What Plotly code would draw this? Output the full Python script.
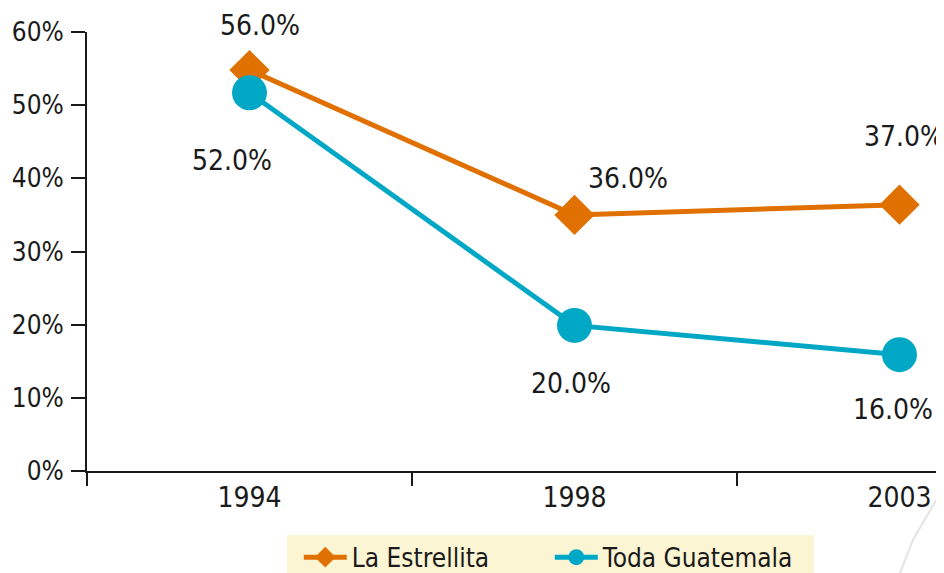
import plotly.graph_objects as go

years = ["1994", "1998", "2003"]
estrellita = [54.8, 35.0, 36.4]
guatemala = [51.7, 19.9, 15.9]
estrellita_labels = ["56.0%", "36.0%", "37.0%"]
guatemala_labels = ["52.0%", "20.0%", "16.0%"]
y_ticks = [0, 10, 20, 30, 40, 50, 60]
y_tick_labels = ["0%", "10%", "20%", "30%", "40%", "50%", "60%"]

ORANGE = "#E07000"
TEAL = "#00A8C6"
INK = "#1a1a1a"
CREAM = "#FCF5D3"
FONT = "DejaVu Sans Condensed"
FS = 28

fig = go.Figure()
fig.add_trace(go.Scatter(
    x=years, y=estrellita, name="La Estrellita", mode="lines+markers",
    line=dict(color=ORANGE, width=5),
    marker=dict(symbol="diamond", size=31, color=ORANGE),
))
fig.add_trace(go.Scatter(
    x=years, y=guatemala, name="Toda Guatemala", mode="lines+markers",
    line=dict(color=TEAL, width=5),
    marker=dict(symbol="circle", size=35, color=TEAL),
))

# label offsets (pixels) relative to each point
est_off = [(10, 45), (54, 36), (5, 68)]
gua_off = [(-18, -68), (-3, -58), (-6, -55)]
anns = []
for ys, labs, offs in ((estrellita, estrellita_labels, est_off),
                       (guatemala, guatemala_labels, gua_off)):
    for i, (y, t, (dx, dy)) in enumerate(zip(ys, labs, offs)):
        anns.append(dict(xref="x", yref="y", x=i, y=y, text=t, showarrow=False,
                         xanchor="center", yanchor="middle",
                         xshift=dx, yshift=dy,
                         font=dict(family=FONT, size=FS, color=INK)))

fig.update_layout(
    width=944, height=573,
    margin=dict(l=79, r=8, t=24, b=110, autoexpand=False),
    paper_bgcolor="white", plot_bgcolor="white",
    font=dict(family=FONT, size=FS, color=INK),
    showlegend=True,
    legend=dict(orientation="h", x=0.54, xanchor="center", y=-0.143, yanchor="top",
                bgcolor="rgba(0,0,0,0)", font=dict(family=FONT, size=26, color=INK),
                itemwidth=43, entrywidth=193, entrywidthmode="pixels"),
    annotations=anns,
    shapes=[
        dict(type="rect", xref="paper", yref="paper",
             x0=0.2334, x1=0.8483, y0=-0.26, y1=-0.1458,
             fillcolor=CREAM, line=dict(width=0), layer="below"),
        dict(type="path", xref="paper", yref="paper",
             path="M 1.0152,-0.025 L 0.9988,-0.0433 L 0.9860,-0.0820 "
                  "L 0.9638,-0.1572 L 0.9487,-0.2323 L 0.946,-0.26",
             line=dict(color="#e4e4e4", width=2), layer="below"),
    ],
)
fig.update_xaxes(
    type="category", range=[-0.5, 2.137], showgrid=False, zeroline=False,
    showline=True, linecolor=INK, linewidth=2, automargin=False,
    ticks="outside", tickson="boundaries", ticklen=13, tickwidth=2, tickcolor=INK,
    tickfont=dict(family=FONT, size=FS, color=INK),
)
fig.update_yaxes(
    range=[0, 60], tickmode="array", tickvals=y_ticks, ticktext=y_tick_labels,
    showgrid=False, zeroline=False, automargin=False,
    showline=True, linecolor=INK, linewidth=2,
    ticks="outside", ticklen=14, tickwidth=2, tickcolor=INK,
    ticklabelstandoff=2,
    tickfont=dict(family=FONT, size=26, color=INK),
)
fig.write_html("out.html")
